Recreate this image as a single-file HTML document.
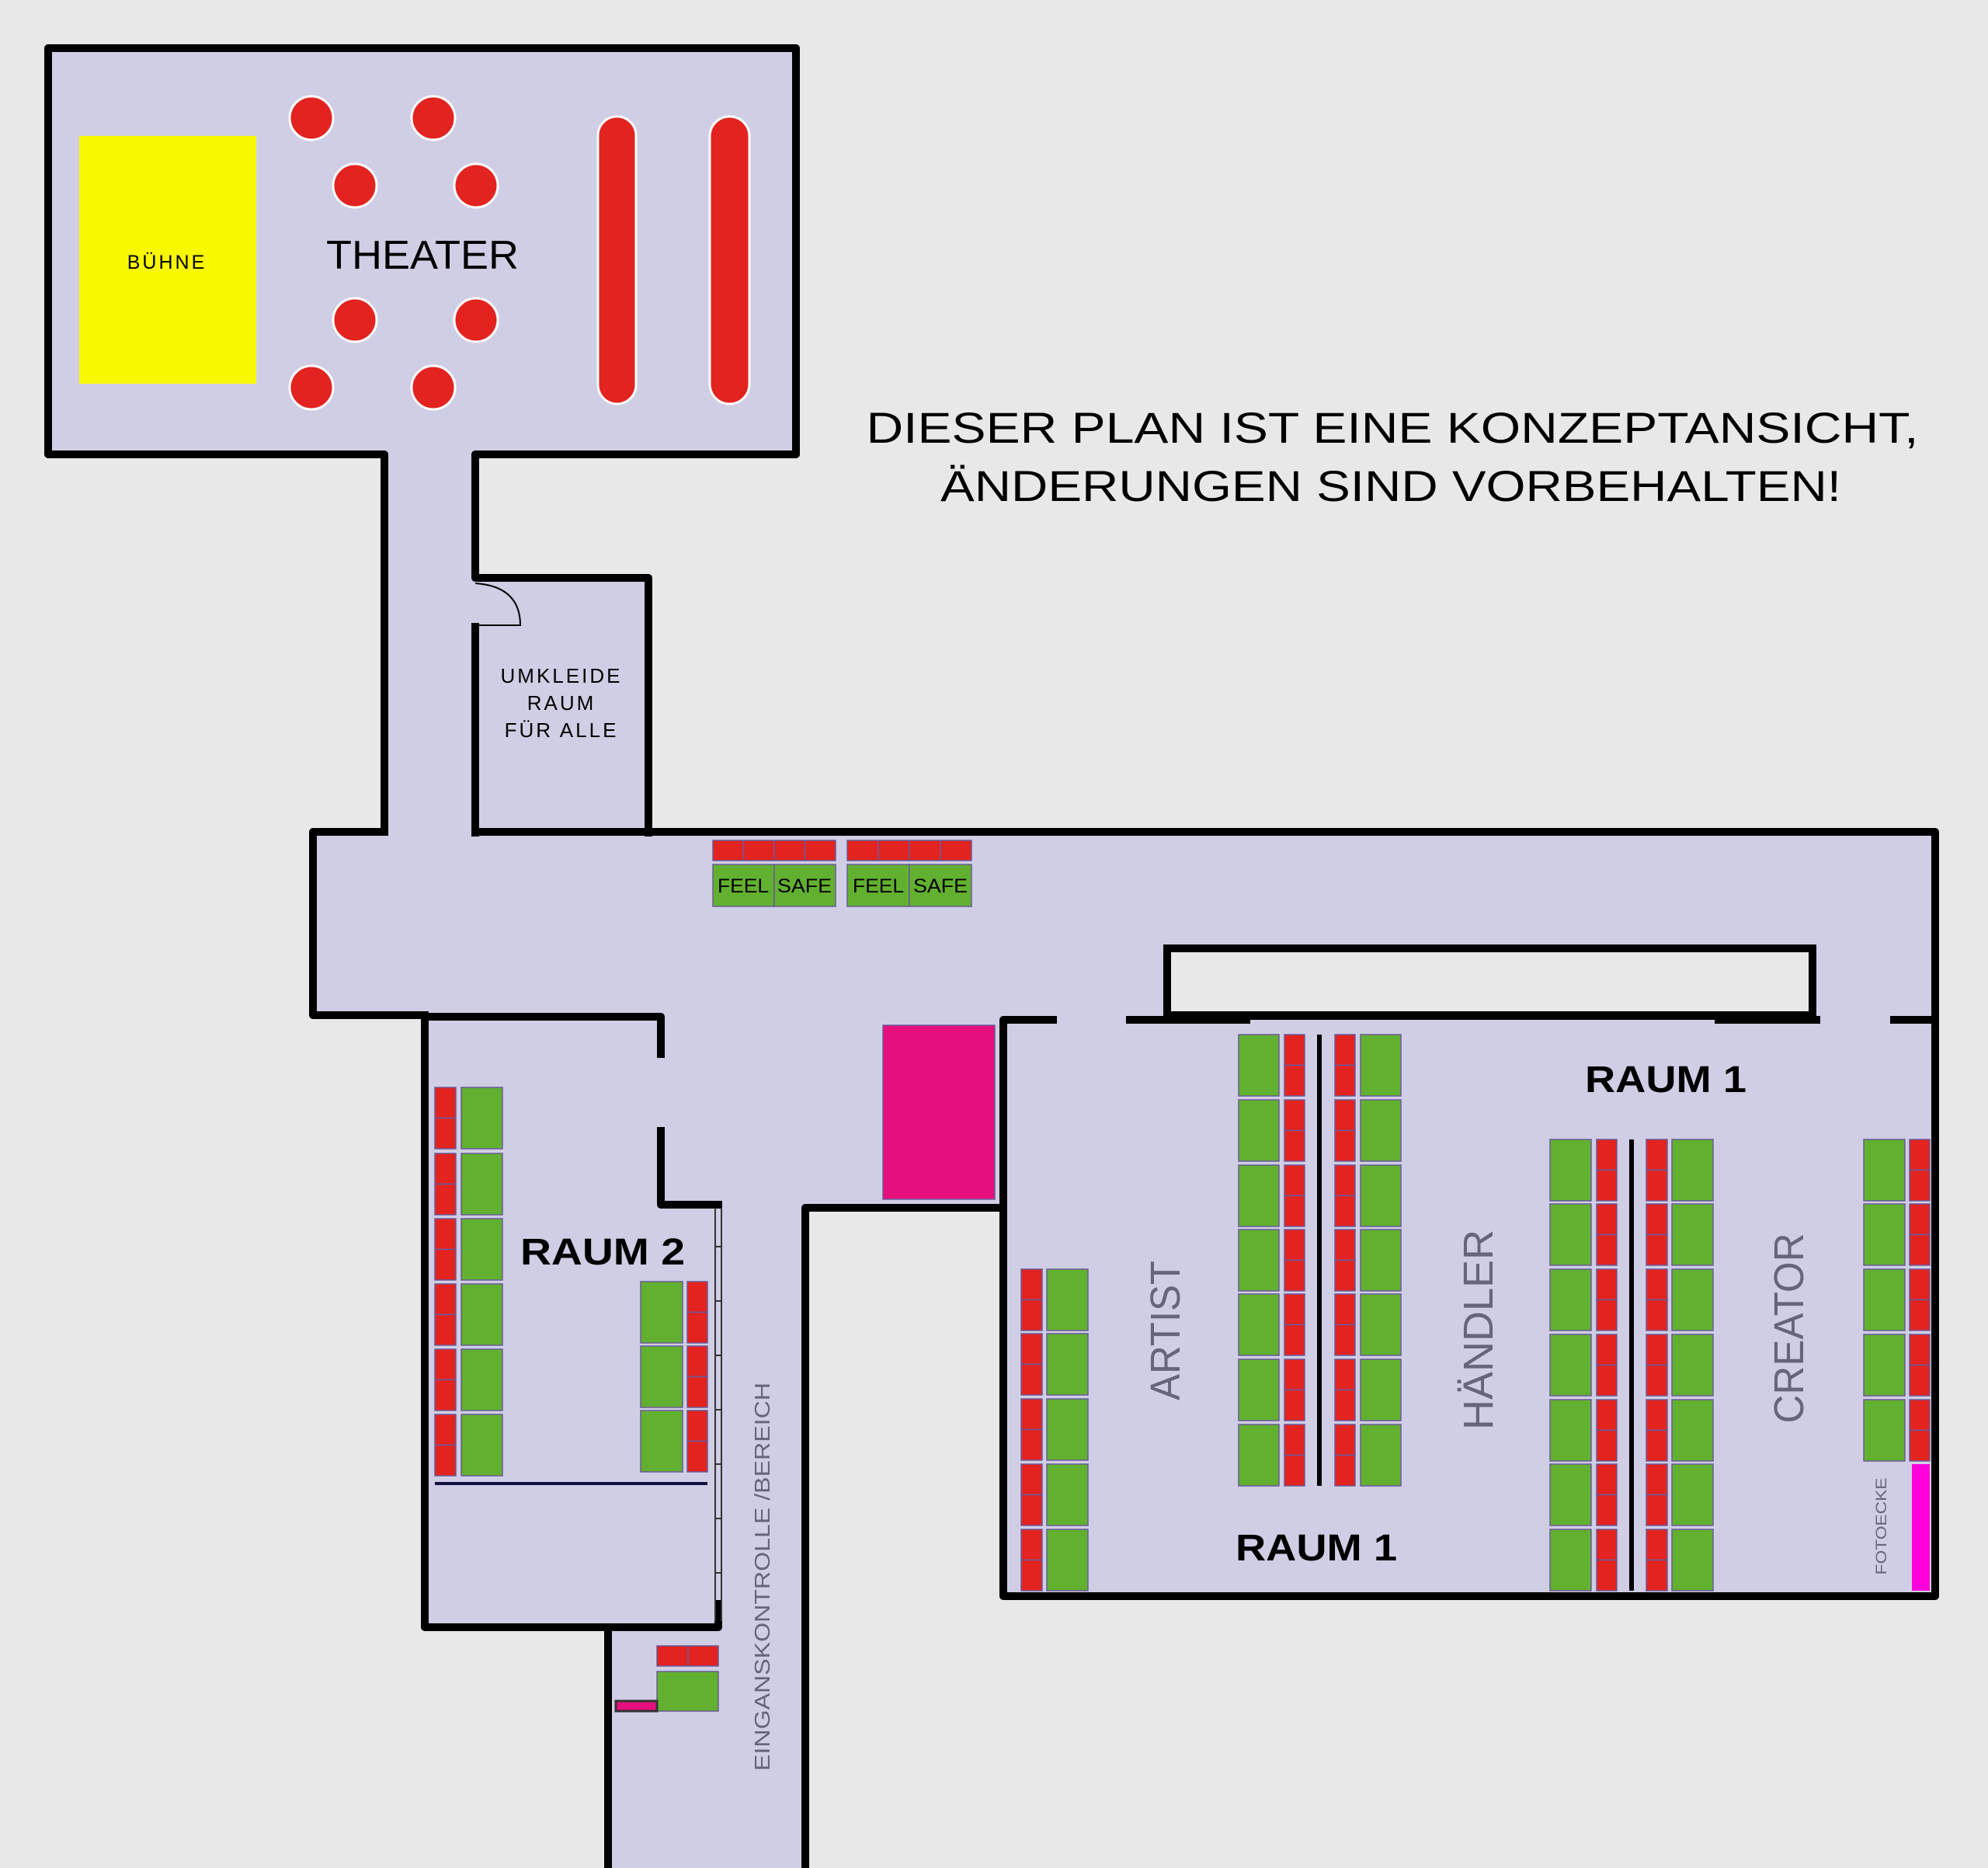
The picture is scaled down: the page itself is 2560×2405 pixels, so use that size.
<!DOCTYPE html>
<html><head><meta charset="utf-8"><style>html,body{margin:0;padding:0;background:#e8e8e8}svg{display:block}</style></head>
<body>
<svg width="2560" height="2405" viewBox="0 0 2560 2405" xmlns="http://www.w3.org/2000/svg" font-family="Liberation Sans, DejaVu Sans, sans-serif">
<rect width="2560" height="2405" fill="#e8e8e8"/>
<g fill="#d0cee4">
<rect x="62" y="62" width="963" height="523"/>
<rect x="495" y="580" width="117" height="495"/>
<rect x="612" y="744" width="223" height="330"/>
<rect x="403" y="1071" width="2089" height="239"/>
<rect x="547" y="1305" width="378" height="790"/>
<rect x="851" y="1305" width="441" height="250"/>
<rect x="783" y="1550" width="254" height="855"/>
<rect x="925" y="1550" width="112" height="545"/>
<rect x="1292" y="1305" width="1200" height="750"/>
</g>
<rect x="1503" y="1221" width="831" height="86" fill="#e8e8e8" stroke="#000" stroke-width="10"/>
<g fill="none" stroke="#000" stroke-width="10" stroke-linejoin="round" stroke-linecap="square">
<path d="M495 1071 V585 H62 V62 H1025 V585 H612 V744 H835 V1072"/>
<path d="M612 807 V1072"/>
<path d="M612 1071 H2492 V2055 H1292 V1313 H1356"/>
<path d="M495 1071 H403 V1307 H547"/>
<path d="M552 1309 H851 V1357"/>
<path d="M851 1456 V1551 H925"/>
<path d="M547 1307 V2095 H925 V2065"/>
<path d="M783 2100 V2405"/>
<path d="M1037 2405 V1555 H1286"/>
<path d="M1455 1313 H1605 M2213 1313 H2339 M2439 1313 H2492"/>
</g>
<path d="M1605 1312 H2213" stroke="#000" stroke-width="2"/>
<path d="M612 751 Q670 755 670 805 H612" fill="none" stroke="#000" stroke-width="2"/>
<g stroke="#333" stroke-width="2" fill="none">
<path d="M921 1555 V2087 M929 1555 V2087"/>
<path d="M921 1605 H929 M921 1675 H929 M921 1745 H929 M921 1815 H929 M921 1885 H929 M921 1955 H929 M921 2025 H929"/>
</g>
<rect x="102" y="175" width="228" height="319" fill="#f8f800"/>
<g fill="#e2231f" stroke="#fff" stroke-width="3">
<circle cx="401" cy="152" r="28"/><circle cx="558" cy="152" r="28"/>
<circle cx="457" cy="239" r="28"/><circle cx="613" cy="239" r="28"/>
<circle cx="457" cy="412" r="28"/><circle cx="613" cy="412" r="28"/>
<circle cx="401" cy="499" r="28"/><circle cx="558" cy="499" r="28"/>
<rect x="770" y="150" width="49" height="370" rx="24.5"/>
<rect x="914" y="150" width="51" height="370" rx="25.5"/>
</g>
<text x="215" y="346" font-size="25" text-anchor="middle" letter-spacing="3">BÜHNE</text>
<text x="544" y="346" font-size="52" text-anchor="middle" textLength="248" lengthAdjust="spacingAndGlyphs">THEATER</text>
<g font-size="26" text-anchor="middle" letter-spacing="3">
<text x="723" y="879">UMKLEIDE</text><text x="723" y="914">RAUM</text><text x="723" y="949">FÜR ALLE</text>
</g>
<text x="1793" y="570" font-size="56" text-anchor="middle" textLength="1355" lengthAdjust="spacingAndGlyphs">DIESER PLAN IST EINE KONZEPTANSICHT,</text>
<text x="1791" y="645" font-size="56" text-anchor="middle" textLength="1160" lengthAdjust="spacingAndGlyphs">ÄNDERUNGEN SIND VORBEHALTEN!</text>
<g stroke="#6a5a9a" stroke-width="1.5">
<g fill="#e2231f">
<rect x="918" y="1082" width="39.5" height="26"/><rect x="957.5" y="1082" width="39.5" height="26"/><rect x="997" y="1082" width="39.5" height="26"/><rect x="1036.5" y="1082" width="39.5" height="26"/>
<rect x="1091" y="1082" width="40" height="26"/><rect x="1131" y="1082" width="40" height="26"/><rect x="1171" y="1082" width="40" height="26"/><rect x="1211" y="1082" width="40" height="26"/>
<rect x="846" y="2119" width="40" height="26"/><rect x="886" y="2119" width="39" height="26"/>
</g>
<g fill="#62b02f">
<rect x="918" y="1113" width="79" height="54"/><rect x="997" y="1113" width="79" height="54"/>
<rect x="1091" y="1113" width="80" height="54"/><rect x="1171" y="1113" width="80" height="54"/>
<rect x="846" y="2152" width="79" height="51"/>
</g>
</g>
<rect x="793" y="2190" width="53" height="13" fill="#e5107e" stroke="#333" stroke-width="3"/>
<g font-size="25" text-anchor="middle">
<text x="957" y="1149" textLength="66" lengthAdjust="spacingAndGlyphs">FEEL</text>
<text x="1036" y="1149" textLength="70" lengthAdjust="spacingAndGlyphs">SAFE</text>
<text x="1131" y="1149" textLength="66" lengthAdjust="spacingAndGlyphs">FEEL</text>
<text x="1211" y="1149" textLength="70" lengthAdjust="spacingAndGlyphs">SAFE</text>
</g>
<rect x="1137" y="1320" width="144" height="224" fill="#e5107e" stroke="#6a5a9a" stroke-width="1.5"/>
<line x1="560" y1="1910" x2="911" y2="1910" stroke="#101040" stroke-width="4"/>
<g id="seats" stroke="#6a5a9a" stroke-width="1.5"></g>
<g stroke="#000" stroke-width="6">
<line x1="1699" y1="1332" x2="1699" y2="1913"/>
<line x1="2101" y1="1467" x2="2101" y2="2048"/>
</g>
<rect x="2462" y="1885" width="23" height="163" fill="#ff00dd"/>
<g font-weight="bold" font-size="48" text-anchor="middle">
<text x="776" y="1628" textLength="212" lengthAdjust="spacingAndGlyphs">RAUM 2</text>
<text x="2145" y="1406" textLength="208" lengthAdjust="spacingAndGlyphs">RAUM 1</text>
<text x="1695" y="2009" textLength="208" lengthAdjust="spacingAndGlyphs">RAUM 1</text>
</g>
<g fill="#66657a" text-anchor="middle">
<text transform="translate(1519,1713) rotate(-90)" font-size="54" textLength="180" lengthAdjust="spacingAndGlyphs">ARTIST</text>
<text transform="translate(1922,1712) rotate(-90)" font-size="54" textLength="258" lengthAdjust="spacingAndGlyphs">HÄNDLER</text>
<text transform="translate(2322,1710) rotate(-90)" font-size="54" textLength="245" lengthAdjust="spacingAndGlyphs">CREATOR</text>
<text transform="translate(991,2030) rotate(-90)" font-size="28" textLength="500" lengthAdjust="spacingAndGlyphs">EINGANSKONTROLLE /BEREICH</text>
<text transform="translate(2429,1965) rotate(-90)" font-size="19" textLength="125" lengthAdjust="spacingAndGlyphs">FOTOECKE</text>
</g>
<script>
(function(){
var g=document.getElementById('seats'),NS='http://www.w3.org/2000/svg';
function r(x,y,w,h,f){var e=document.createElementNS(NS,'rect');e.setAttribute('x',x);e.setAttribute('y',y);e.setAttribute('width',w);e.setAttribute('height',h);e.setAttribute('fill',f);g.appendChild(e);}
function red(x,w,y,h){r(x,y,w,h/2,'#e2231f');r(x,y+h/2,w,h/2,'#e2231f');}
function col(rows,h,greenX,greenW,redX,redW){rows.forEach(function(y){r(greenX,y,greenW,h,'#62b02f');red(redX,redW,y,h);});}
var r2=[1400,1485,1569,1653,1737,1821];col(r2,79,594,53,560,27);
col([1650,1733,1816],79,825,54,885,26);
col([1634,1717,1801,1885,1969],79,1348,53,1315,27);
var g1=[1332,1416,1500,1583,1666,1750,1834];col(g1,79,1595,52,1654,26);col(g1,79,1752,52,1719,26);
var g2=[1467,1550,1634,1718,1802,1885,1969];col(g2,79,1996,53,2056,26);col(g2,79,2153,53,2120,27);
col([1467,1550,1634,1718,1802],79,2400,53,2459,26);
})();
</script>
</svg>
</body></html>
